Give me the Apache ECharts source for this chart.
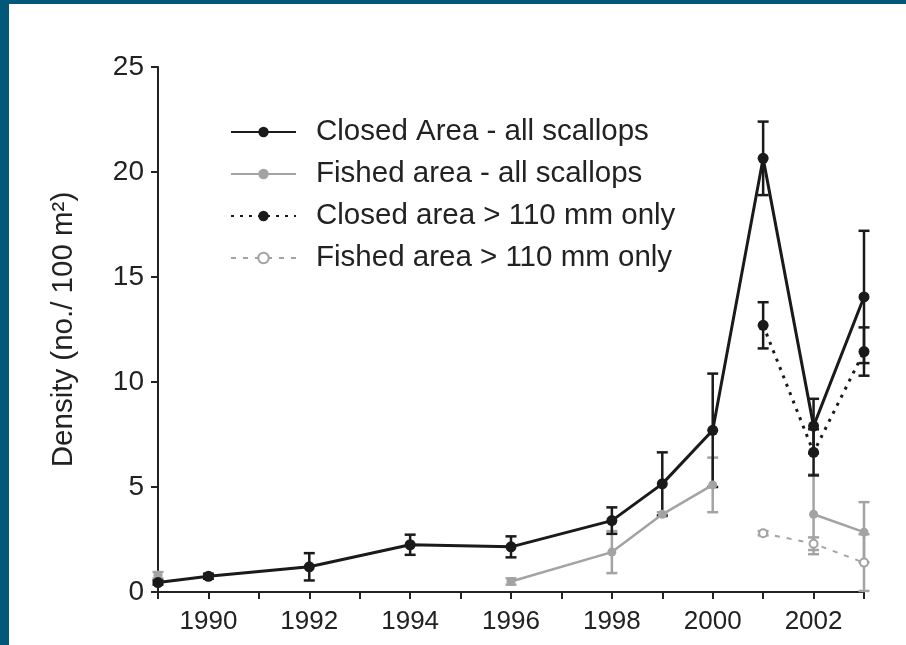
<!DOCTYPE html>
<html>
<head>
<meta charset="utf-8">
<script src="https://cdn.jsdelivr.net/npm/echarts@6/dist/echarts.min.js"></script>
<style>
html,body{margin:0;padding:0;background:#fff;}
#chart{width:906px;height:645px;}
</style>
</head>
<body>
<div id="chart"></div>
<script>
// ---- data ----
var years = [1989, 1990, 1992, 1994, 1996, 1998, 1999, 2000, 2001, 2002, 2003];
var closedAll    = [0.45, 0.75, 1.2, 2.25, 2.15, 3.4, 5.15, 7.7, 20.65, 7.9, 14.05];
var closedAllErr = [0.1, 0.12, 0.65, 0.48, 0.5, 0.63, 1.5, 2.7, 1.75, 1.3, 3.15];
var fishedAll    = [0.8, null, null, null, 0.5, 1.9, 3.7, 5.1, null, 3.7, 2.85];
var fishedAllErr = [0.15, null, null, null, 0.15, 1.0, 0.1, 1.3, null, 1.9, 1.43];
var years110 = [2001, 2002, 2003];
var closed110    = [12.7, 6.65, 11.45];
var closed110Err = [1.1, 1.1, 1.15];
var fished110    = [2.8, 2.3, 1.4];
var fished110Err = [0.1, 0.3, 1.35];
var yTicks = [0, 5, 10, 15, 20, 25];
var seriesNames = [
  'Closed Area - all scallops',
  'Fished area - all scallops',
  'Closed area > 110 mm only',
  'Fished area > 110 mm only'
];

var BLACK = '#1a1a1a', GRAY = '#a3a3a3', TEAL = '#03587a';
var FONT = '"Liberation Sans", Arial, sans-serif';

function pairs(xs, ys) {
  return xs.map(function (x, i) { return [x, ys[i] == null ? '-' : ys[i]]; });
}
function errData(xs, ys, es) {
  var out = [];
  xs.forEach(function (x, i) { if (ys[i] != null && es[i] != null) out.push([x, ys[i], es[i]]); });
  return out;
}
function errSeries(data, color) {
  return {
    type: 'custom',
    data: data,
    z: 1,
    silent: true,
    encode: { x: 0, y: 1 },
    renderItem: function (params, api) {
      var x = api.value(0), y = api.value(1), e = api.value(2);
      var t = api.coord([x, y + e]);
      var b = api.coord([x, y - e]);
      var st = { stroke: color, lineWidth: 2.5 };
      return {
        type: 'group',
        children: [
          { type: 'line', shape: { x1: t[0], y1: t[1], x2: b[0], y2: b[1] }, style: st },
          { type: 'line', shape: { x1: t[0] - 5.5, y1: t[1], x2: t[0] + 5.5, y2: t[1] }, style: st },
          { type: 'line', shape: { x1: b[0] - 5.5, y1: b[1], x2: b[0] + 5.5, y2: b[1] }, style: st }
        ]
      };
    }
  };
}

var chart = echarts.init(document.getElementById('chart'), null, { renderer: 'canvas' });
chart.setOption({
  backgroundColor: '#fff',
  animation: false,
  textStyle: { fontFamily: FONT },
  graphic: [
    { type: 'rect', left: 0, top: 0, shape: { width: 906, height: 4 }, style: { fill: TEAL }, z: 100 },
    { type: 'rect', left: 0, top: 0, shape: { width: 9, height: 645 }, style: { fill: TEAL }, z: 100 }
  ],
  grid: { left: 158, right: 42, top: 67, bottom: 53, containLabel: false },
  legend: {
    orient: 'vertical',
    left: 225,
    top: 112,
    itemWidth: 65,
    itemHeight: 13,
    itemGap: 12,
    data: seriesNames,
    textStyle: { fontSize: 29.5, color: '#222', fontFamily: FONT, lineHeight: 30, padding: [0, 0, 0, 15] }
  },
  xAxis: {
    type: 'value',
    min: 1989, max: 2003, interval: 1,
    axisLine: { lineStyle: { color: '#222', width: 2 } },
    axisTick: { length: 7, lineStyle: { color: '#222', width: 2 } },
    axisLabel: {
      fontSize: 26, color: '#222', margin: 17, fontFamily: FONT,
      formatter: function (v) { return v % 2 === 0 ? String(v) : ''; }
    },
    splitLine: { show: false }
  },
  yAxis: {
    type: 'value',
    min: yTicks[0], max: yTicks[yTicks.length - 1], interval: 5,
    name: 'Density (no./ 100 m²)',
    nameLocation: 'middle',
    nameGap: 79,
    nameRotate: 90,
    nameTextStyle: { fontSize: 29.5, color: '#222', fontFamily: FONT },
    axisLine: { show: true, lineStyle: { color: '#222', width: 2 } },
    axisTick: { show: true, length: 7, lineStyle: { color: '#222', width: 2 } },
    axisLabel: { fontSize: 28, color: '#222', margin: 14, fontFamily: FONT, padding: [0, 0, 7, 0] },
    splitLine: { show: false }
  },
  series: [
    errSeries(errData(years, fishedAll, fishedAllErr), GRAY),
    errSeries(errData(years110, fished110, fished110Err), GRAY),
    errSeries(errData(years, closedAll, closedAllErr), BLACK),
    errSeries(errData(years110, closed110, closed110Err), BLACK),
    {
      name: seriesNames[1], type: 'line', data: pairs(years, fishedAll), connectNulls: false,
      symbol: 'circle', symbolSize: 9, z: 3,
      lineStyle: { color: GRAY, width: 2.5 }, itemStyle: { color: GRAY }
    },
    {
      name: seriesNames[3], type: 'line', data: pairs(years110, fished110),
      symbol: 'emptyCircle', symbolSize: 8, z: 3,
      lineStyle: { color: GRAY, width: 2, type: [5, 7] }, itemStyle: { color: GRAY, borderColor: GRAY, borderWidth: 2 }
    },
    {
      name: seriesNames[0], type: 'line', data: pairs(years, closedAll),
      symbol: 'circle', symbolSize: 11, z: 5,
      lineStyle: { color: BLACK, width: 3 }, itemStyle: { color: BLACK }
    },
    {
      name: seriesNames[2], type: 'line', data: pairs(years110, closed110),
      symbol: 'circle', symbolSize: 11, z: 5,
      lineStyle: { color: BLACK, width: 3, type: [3, 6] }, itemStyle: { color: BLACK }
    }
  ]
});
</script>
</body>
</html>
